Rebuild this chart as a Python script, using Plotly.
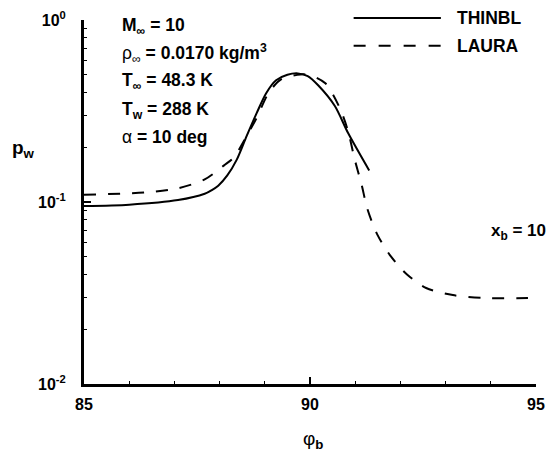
import plotly.graph_objects as go

# THINBL (solid)
thinbl_phi = [85.00, 86.00, 87.08, 87.67, 87.82, 87.97, 88.17, 88.38, 88.60, 88.82, 89.03, 89.25, 89.50, 89.73, 89.95, 90.18, 90.55, 90.84, 91.31]
thinbl_p = [0.095, 0.0967, 0.1025, 0.111, 0.116, 0.123, 0.140, 0.171, 0.231, 0.308, 0.396, 0.466, 0.500, 0.509, 0.492, 0.438, 0.337, 0.240, 0.149]

# LAURA (dashed)
laura_phi = [85.00, 86.37, 87.08, 87.67, 88.10, 88.32, 88.54, 88.82, 89.08, 89.36, 89.79, 90.01, 90.34, 90.66, 90.84, 90.99, 91.14, 91.27, 91.49, 91.79, 92.14, 92.57, 93.16, 93.81, 95.00]
laura_p = [0.1096, 0.113, 0.119, 0.133, 0.159, 0.176, 0.217, 0.290, 0.396, 0.472, 0.502, 0.497, 0.449, 0.328, 0.246, 0.171, 0.125, 0.0916, 0.0662, 0.0502, 0.0401, 0.0337, 0.0308, 0.0297, 0.0297]

x_ticks = [85, 90, 95]
x_ticktext = ["85", "90", "95"]
y_ticks = [0.01, 0.1, 1]
y_ticktext = ["10<sup>-2</sup>", "10<sup>-1</sup>", "10<sup>0</sup>"]
x_minor = [86, 87, 88, 89, 91, 92, 93, 94]
y_minor = [0.02, 0.03, 0.04, 0.05, 0.06, 0.07, 0.08, 0.09, 0.2, 0.3, 0.4, 0.5, 0.6, 0.7, 0.8, 0.9]

series_names = ["THINBL", "LAURA"]
cond_lines = [
    "<b>M<sub>∞</sub> = 10</b>",
    "ρ<sub>∞</sub><b> = 0.0170 kg/m<sup>3</sup></b>",
    "<b>T<sub>∞</sub> = 48.3 K</b>",
    "<b>T<sub>w</sub> = 288 K</b>",
    "α<b> = 10 deg</b>",
]

FONT = "Liberation Sans, Arial, sans-serif"
W, H = 554, 456
ML, MR, MT, MB = 84, 9, 16, 72
PW, PH = W - ML - MR, H - MT - MB


def px(x):
    return (x - ML) / PW


def py(y):
    return (H - MB - y) / PH


fig = go.Figure()
fig.add_trace(go.Scatter(x=thinbl_phi, y=thinbl_p, mode="lines", name=series_names[0],
                         line=dict(color="black", width=2, shape="spline", smoothing=0.8),
                         showlegend=False, hoverinfo="skip"))
fig.add_trace(go.Scatter(x=laura_phi, y=laura_p, mode="lines", name=series_names[1],
                         line=dict(color="black", width=2, dash="12px,12px", shape="spline", smoothing=0.8),
                         showlegend=False, hoverinfo="skip"))

shapes = [
    dict(type="line", xref="paper", yref="paper", x0=px(359), x1=px(448), y0=py(14), y1=py(14),
         line=dict(color="black", width=2)),
    dict(type="line", xref="paper", yref="paper", x0=px(359), x1=px(448), y0=py(42), y1=py(42),
         line=dict(color="black", width=2, dash="12px,13px")),
]

annotations = [
    dict(text="<b>%s</b>" % series_names[0], xref="paper", yref="paper", x=px(462), y=py(14),
         xanchor="left", yanchor="middle", showarrow=False, font=dict(size=17.5, family=FONT, color="black")),
    dict(text="<b>%s</b>" % series_names[1], xref="paper", yref="paper", x=px(462), y=py(42),
         xanchor="left", yanchor="middle", showarrow=False, font=dict(size=17.5, family=FONT, color="black")),
]
cond_y = [23, 50, 78, 107, 134]
for t, yy in zip(cond_lines, cond_y):
    annotations.append(dict(text=t, xref="paper", yref="paper", x=px(121), y=py(yy),
                            xanchor="left", yanchor="middle", showarrow=False,
                            font=dict(size=17.5, family=FONT, color="black")))
annotations.append(dict(text="<b>p<sub>w</sub></b>", xref="paper", yref="paper", x=px(9), y=py(146),
                        xanchor="left", yanchor="middle", showarrow=False,
                        font=dict(size=19, family=FONT, color="black")))
annotations.append(dict(text="φ<b><sub>b</sub></b>", xref="paper", yref="paper", x=px(318), y=py(441),
                        xanchor="center", yanchor="middle", showarrow=False,
                        font=dict(size=19, family=FONT, color="black")))
annotations.append(dict(text="<b>x<sub>b</sub> = 10</b>", xref="paper", yref="paper", x=px(497), y=py(230),
                        xanchor="left", yanchor="middle", showarrow=False,
                        font=dict(size=17, family=FONT, color="black")))

fig.update_layout(
    width=W, height=H,
    margin=dict(l=ML, r=MR, t=MT, b=MB, pad=0),
    paper_bgcolor="white", plot_bgcolor="white",
    showlegend=False,
    hovermode=False,
    shapes=shapes,
    annotations=annotations,
    font=dict(family=FONT, color="black"),
    xaxis=dict(range=[85, 95], tickmode="array", tickvals=x_ticks, ticktext=["<b>%s</b>" % t for t in x_ticktext],
               ticks="inside", ticklen=7, tickwidth=1.5, tickcolor="black",
               showline=True, linewidth=3, linecolor="black", showgrid=False, zeroline=False,
               tickfont=dict(size=16, family=FONT, color="black"), ticklabelstandoff=4,
               minor=dict(tickmode="array", tickvals=x_minor, ticks="inside", ticklen=3, tickwidth=1.2,
                          tickcolor="black", showgrid=False)),
    yaxis=dict(type="log", range=[-2, 0], tickmode="array", tickvals=y_ticks,
               ticktext=["<b>%s</b>" % t for t in y_ticktext],
               ticks="inside", ticklen=7, tickwidth=1.5, tickcolor="black",
               showline=True, linewidth=3, linecolor="black", showgrid=False, zeroline=False,
               tickfont=dict(size=16, family=FONT, color="black"), ticklabelstandoff=12,
               minor=dict(tickmode="array", tickvals=y_minor, ticks="inside", ticklen=3, tickwidth=1.2,
                          tickcolor="black", showgrid=False)),
)

fig.write_html("out.html", config={"displayModeBar": False, "staticPlot": True},
               post_script="document.body.style.margin='0';document.body.style.overflow='hidden';")
